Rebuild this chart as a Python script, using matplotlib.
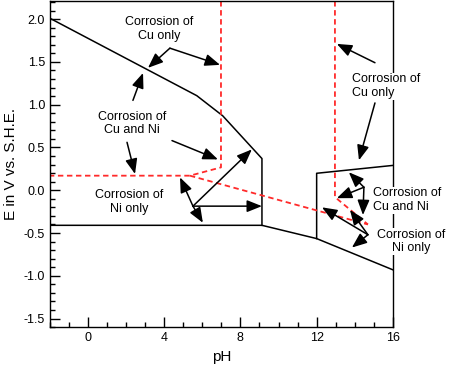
import matplotlib
matplotlib.use("Agg")
import matplotlib.pyplot as plt
from matplotlib.ticker import MultipleLocator

plt.rcParams["font.family"] = ["Liberation Sans", "DejaVu Sans"]

# black boundaries (pH, E)
upper_ph = [-2.0, 5.71, 7.07, 9.13, 9.13]
upper_e = [2.01, 1.105, 0.87, 0.37, -0.41]
lower_ph = [-2.0, 9.13, 12.0, 16.0]
lower_e = [-0.41, -0.41, -0.565, -0.93]
right_ph = [12.0, 12.0, 16.0]
right_e = [-0.565, 0.198, 0.29]

# red dashed boundaries
red1_ph = [6.98, 6.98, 5.35, -2.0]
red1_e = [2.21, 0.267, 0.17, 0.17]
red2_ph = [5.35, 14.69]
red2_e = [0.17, -0.40]
red3_ph = [12.96, 12.96, 14.69]
red3_e = [2.21, -0.08, -0.40]

# annotations: text, text position, alignment, arrow start, arrow ends
labels = [
    ("Corrosion of\nCu only", (3.73, 1.88), "center", (4.30, 1.66),
     [(3.15, 1.43), (6.93, 1.465)]),
    ("Corrosion of\nCu and Ni", (2.31, 0.78), "center", None, []),
    ("Corrosion of\nNi only", (2.15, -0.14), "center", (5.51, -0.186),
     [(4.83, 0.15), (6.03, -0.38), (9.13, -0.186), (8.60, 0.477)]),
    ("Corrosion of\nCu and Ni", (14.95, -0.116), "left", (14.48, 0.035),
     [(13.69, 0.21), (13.06, -0.093), (14.43, -0.29)]),
    ("Corrosion of\nNi only", (16.95, -0.60), "center", (14.69, -0.52),
     [(12.28, -0.20), (13.75, -0.23), (13.85, -0.67)]),
    ("Corrosion of\nCu only", (13.85, 1.215), "left", None, []),
]
extra_arrows = [
    ((2.36, 1.05), (2.89, 1.37)),
    ((2.05, 0.56), (2.47, 0.19)),
    ((4.41, 0.58), (6.82, 0.36)),
    ((15.06, 1.49), (13.06, 1.71)),
    ((15.06, 1.02), (14.22, 0.35)),
]

fig = plt.figure(figsize=(4.49, 3.68), dpi=100)
ax = fig.add_axes([0.111, 0.111, 0.764, 0.886])

ax.plot(upper_ph, upper_e, color="black", lw=1.1)
ax.plot(lower_ph, lower_e, color="black", lw=1.1)
ax.plot(right_ph, right_e, color="black", lw=1.1)
for xs, ys in [(red1_ph, red1_e), (red2_ph, red2_e), (red3_ph, red3_e)]:
    ax.plot(xs, ys, color="#ff2a2a", lw=1.3, dashes=(3, 2))

arrowprops = dict(arrowstyle="-|>,head_length=0.7,head_width=0.28",
                  mutation_scale=13, color="black", lw=1.1,
                  shrinkA=0, shrinkB=0)

for text, pos, ha, start, ends in labels:
    ax.text(pos[0], pos[1], text, ha=ha, va="center", fontsize=9,
            multialignment=ha, zorder=5, clip_on=False,
            bbox=dict(facecolor="white", edgecolor="none", pad=0.5))
    for end in ends:
        ax.annotate("", xy=end, xytext=start, arrowprops=arrowprops,
                    annotation_clip=False)

for start, end in extra_arrows:
    ax.annotate("", xy=end, xytext=start, arrowprops=arrowprops,
                annotation_clip=False)

ax.set_xlim(-2, 16)
ax.set_ylim(-1.6, 2.21)
ax.xaxis.set_major_locator(MultipleLocator(4))
ax.xaxis.set_minor_locator(MultipleLocator(1))
ax.yaxis.set_major_locator(MultipleLocator(0.5))
ax.yaxis.set_minor_locator(MultipleLocator(0.1))
ax.yaxis.set_major_formatter(matplotlib.ticker.FormatStrFormatter("%.1f"))
ax.tick_params(which="both", direction="in", labelsize=9, top=False, right=False)
ax.tick_params(which="major", length=7, width=1.0)
ax.tick_params(which="minor", length=3.5, width=1.0)
for s in ax.spines.values():
    s.set_linewidth(1.0)

ax.set_xlabel("pH", fontsize=11)
ax.set_ylabel("E in V vs. S.H.E.", fontsize=11, labelpad=4)

fig.savefig("out.png", dpi=100)
